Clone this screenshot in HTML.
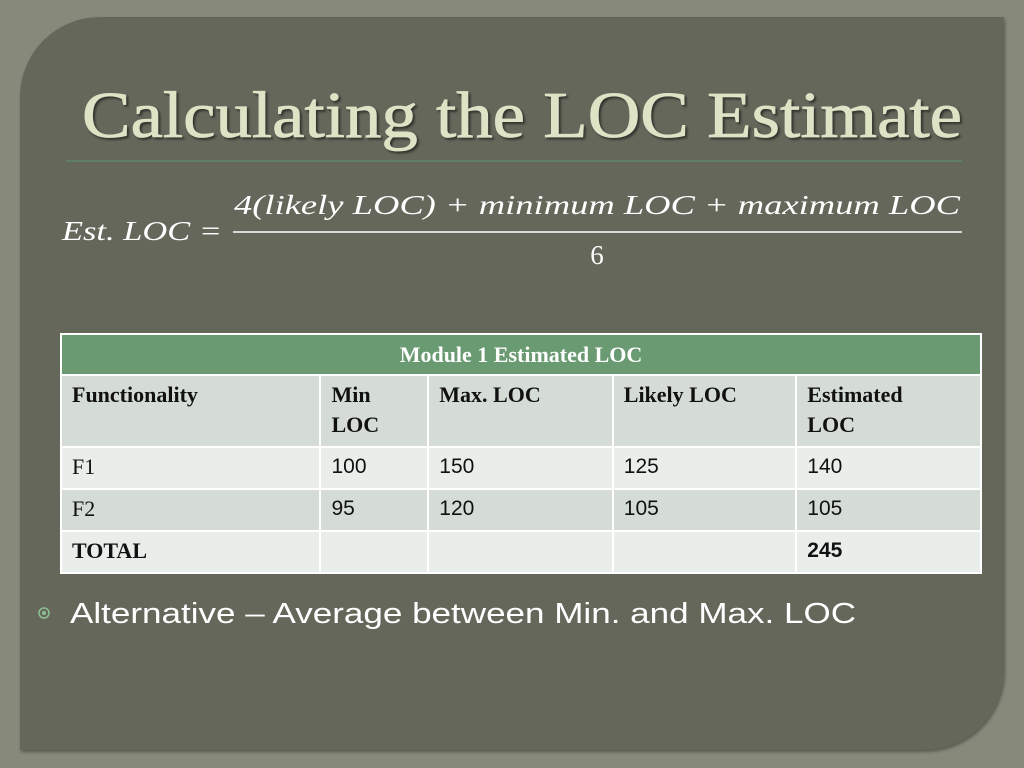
<!DOCTYPE html>
<html><head><meta charset="utf-8"><style>
body{margin:0;width:1024px;height:768px;background:#878a7b;overflow:hidden;position:relative;font-family:"Liberation Sans",sans-serif}
.panel{position:absolute;left:20px;top:17px;width:984px;height:733px;background:#65675b;border-radius:80px 0 80px 0;box-shadow:1px 2px 3px rgba(0,0,0,.35)}
table{position:absolute;left:60px;top:333px;width:922px;border-collapse:collapse;font-family:"Liberation Serif",serif;font-size:22px;line-height:30px;color:#111}
td{border:2px solid #fff;padding:4px 10px;vertical-align:top;box-sizing:border-box}
.hd td{background:#6a9a72;color:#fff;font-weight:bold;text-align:center;height:40px;padding-top:5px}
.a td{background:#d4dcd5}.b td{background:#eaeeea}
.num{font-family:"Liberation Sans",sans-serif;font-size:21px}
b{font-weight:bold}
</style></head><body>
<div class="panel"></div>
<svg width="1024" height="768" style="position:absolute;left:0;top:0">
<text x="82" y="137" textLength="880" lengthAdjust="spacingAndGlyphs" font-family="Liberation Serif,serif" font-size="66" fill="#dfe3c6" stroke="#dfe3c6" stroke-width="0.8" style="filter:drop-shadow(2px 2px 1px rgba(0,0,0,.5))">Calculating the LOC Estimate</text>
<line x1="66" y1="161" x2="962" y2="161" stroke="#5f8066" stroke-width="2"/>
<text x="62" y="240" textLength="160" lengthAdjust="spacingAndGlyphs" font-family="Liberation Serif,serif" font-style="italic" font-size="27" fill="#fff">Est. LOC =</text>
<text x="597" y="214" text-anchor="middle" textLength="726" lengthAdjust="spacingAndGlyphs" font-family="Liberation Serif,serif" font-style="italic" font-size="27" fill="#fff">4(likely LOC) + minimum LOC + maximum LOC</text>
<line x1="233" y1="232" x2="962" y2="232" stroke="#fff" stroke-width="1.5"/>
<text x="597" y="264" text-anchor="middle" font-family="Liberation Serif,serif" font-size="27" fill="#fff">6</text>
<circle cx="44" cy="613" r="5" fill="none" stroke="#8fbf94" stroke-width="1.5"/>
<circle cx="44" cy="613" r="2" fill="#8fbf94"/>
<text x="70" y="623" font-family="Liberation Sans,sans-serif" font-size="29" fill="#fff" textLength="786" lengthAdjust="spacingAndGlyphs">Alternative – Average between Min. and Max. LOC</text>
</svg>
<table>
<colgroup><col style="width:260px"><col style="width:108px"><col style="width:185px"><col style="width:184px"><col style="width:185px"></colgroup>
<tr class="hd"><td colspan="5">Module 1 Estimated LOC</td></tr>
<tr class="a" style="height:72px"><td><b>Functionality</b></td><td><b>Min<br>LOC</b></td><td><b>Max. LOC</b></td><td><b>Likely LOC</b></td><td><b>Estimated<br>LOC</b></td></tr>
<tr class="b" style="height:42px"><td>F1</td><td class="num">100</td><td class="num">150</td><td class="num">125</td><td class="num">140</td></tr>
<tr class="a" style="height:42px"><td>F2</td><td class="num">95</td><td class="num">120</td><td class="num">105</td><td class="num">105</td></tr>
<tr class="b" style="height:42px"><td><b>TOTAL</b></td><td></td><td></td><td></td><td class="num"><b>245</b></td></tr>
</table>
</body></html>
